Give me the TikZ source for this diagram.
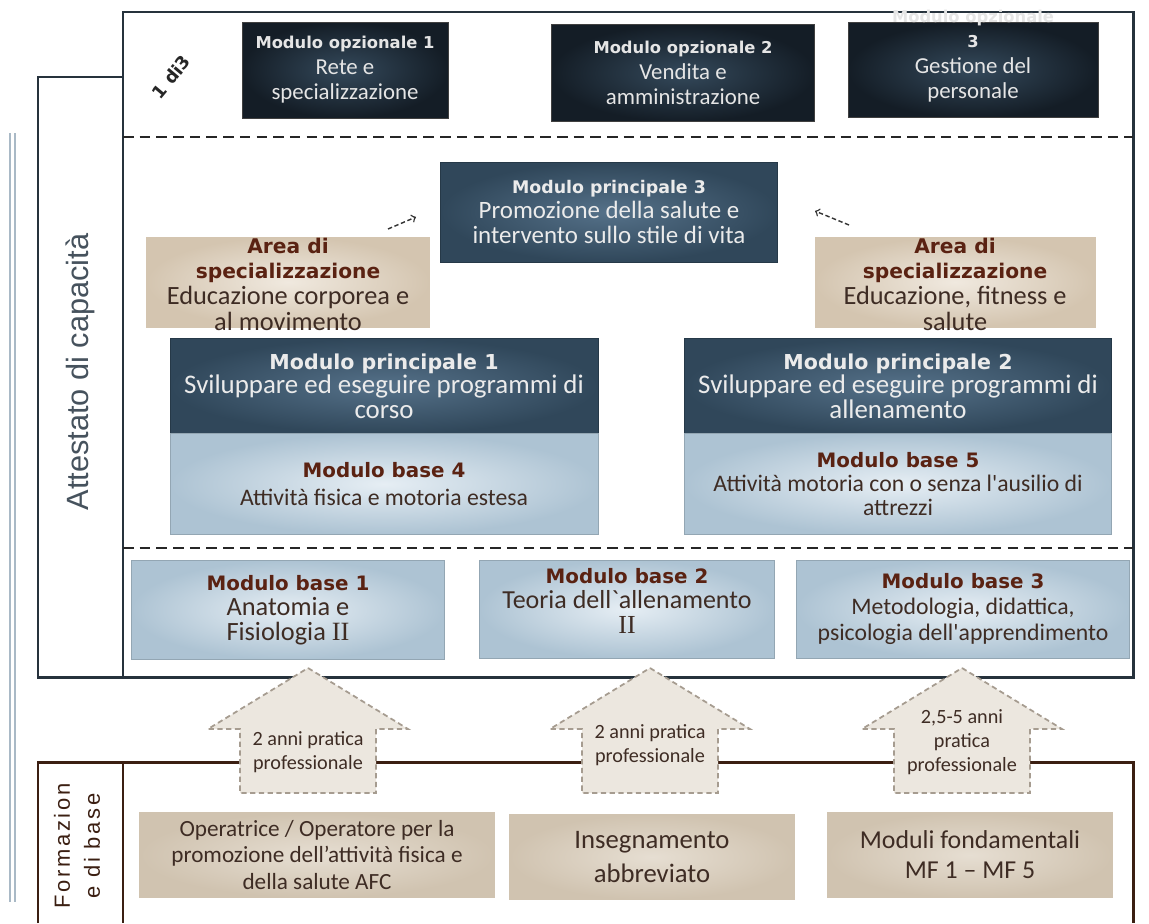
\documentclass[tikz,border=0pt]{standalone}
\usepackage{fontspec}
\setmainfont{Carlito}[Ligatures=TeXOff]
\newfontfamily\headfont{DejaVu Sans}
\newfontfamily\sidefont{Liberation Sans}
\newfontfamily\romfont{Liberation Serif}
\usetikzlibrary{positioning}

\definecolor{framecol}{HTML}{26323C}
\definecolor{browncol}{HTML}{3B1F12}
\definecolor{opta}{HTML}{34495B}
\definecolor{optb}{HTML}{141D26}
\definecolor{maina}{HTML}{557189}
\definecolor{mainb}{HTML}{30475A}
\definecolor{basea}{HTML}{E6EEF4}
\definecolor{baseb}{HTML}{ADC3D3}
\definecolor{areaa}{HTML}{F0E9DF}
\definecolor{areab}{HTML}{D4C5B0}
\definecolor{fboxa}{HTML}{E6DED2}
\definecolor{fboxb}{HTML}{D0C3B0}
\definecolor{arrfill}{HTML}{ECE7DF}
\definecolor{arrdraw}{HTML}{A69C90}
\definecolor{ttlbrown}{HTML}{5A2212}
\definecolor{txtbrown}{HTML}{3E2C24}
\definecolor{sidecol}{HTML}{46525D}
\definecolor{lightline}{HTML}{A9B9C6}

\newcommand{\pxu}{0.02cm}
\newcommand{\ttl}[2][11.3]{{\headfont\bfseries\fontsize{#1}{14}\selectfont #2}}
\newcommand{\rom}[1]{{\romfont #1}}

\tikzset{
  frame/.style={draw=framecol, line width=1.7pt},
  basefr/.style={draw=browncol, line width=1.7pt},
  sep/.style={draw=black!85, line width=1.1pt, dash pattern=on 6pt off 3.5pt},
  opttxt/.style={text=white!90!black, align=center, inner sep=0pt, font=\fontsize{13}{14.5}\selectfont},
  optbox/.style={opttxt, rectangle, draw=black!75, inner color=opta, outer color=optb},
  mainbox/.style={rectangle, draw=mainb!80!black, inner color=maina, outer color=mainb,
    text=white!92!black, align=center, inner sep=0pt, font=\fontsize{14.2}{14.5}\selectfont},
  basebox/.style={rectangle, draw=baseb!85!black, inner color=basea, outer color=baseb,
    text=txtbrown, align=center, inner sep=0pt, font=\fontsize{15}{14.3}\selectfont},
  areabox/.style={rectangle, draw=areab, inner color=areaa, outer color=areab},
  areatxt/.style={text=txtbrown, align=center, inner sep=0pt, font=\fontsize{15}{14.6}\selectfont},
  fbox/.style={rectangle, draw=fboxb, inner color=fboxa, outer color=fboxb,
    text=txtbrown, align=center, inner sep=0pt, font=\fontsize{13.2}{15.3}\selectfont},
  bigarrow/.style={fill=arrfill, draw=arrdraw, line width=1pt, dash pattern=on 3pt off 2pt},
  arrtxt/.style={text=txtbrown, align=center, inner sep=0pt, font=\fontsize{11.5}{13.5}\selectfont},
  smallarr/.style={draw=black!80, line width=0.8pt, dash pattern=on 2.5pt off 1.5pt, ->}
}

\begin{document}
\begin{tikzpicture}[x=0.02cm, y=-0.02cm]
\useasboundingbox (0,0) rectangle (1149,923);

% side lines and frames
\draw[draw=lightline, line width=1.4pt] (10,133) -- (10,902);
\draw[draw=lightline, line width=1.4pt] (15,133) -- (15,902);

\draw[frame] (123,12) rectangle (1133,677);
\draw[frame] (123,77) -- (38,77) -- (38,677) -- (123,677);
\draw[sep] (123,137) -- (1133,137);
\draw[sep] (123,548) -- (1133,548);

\draw[basefr] (38,923) -- (38,762) -- (1133,762) -- (1133,923);
\draw[basefr] (123,762) -- (123,923);

\node[rotate=90, text=sidecol, font=\sidefont\fontsize{17.5}{18}\selectfont] (att) at (80,372) {Attestato di capacità};
\node[rotate=90, text=browncol, align=center, font=\sidefont\addfontfeature{LetterSpace=12}\fontsize{12.5}{17}\selectfont] (form) at (77,846) {Formazion\\e di base};

% optional modules
\node[rotate=50, text=black!85, font=\headfont\bfseries\fontsize{10}{10}\selectfont] (scelta) at (171,77) {1 di3};
\node[optbox, minimum width=206*\pxu, minimum height=96*\pxu] (om1) at (345,70) {\ttl[9.3]{Modulo opzionale 1}\\Rete e\\specializzazione};
\node[optbox, minimum width=263*\pxu, minimum height=97*\pxu] (om2) at (683,73) {\ttl[9.3]{Modulo opzionale 2}\\Vendita e\\amministrazione};
\node[optbox, minimum width=250*\pxu, minimum height=95*\pxu] (om3) at (973,70) {};
\node[opttxt] (om3t) at (973,56) {\ttl[9.3]{Modulo opzionale}\\\ttl[9.3]{3}\\Gestione del\\personale};

% main modules
\node[mainbox, minimum width=337*\pxu, minimum height=100*\pxu] (mp3) at (609,212) {\ttl[9.9]{Modulo principale 3}\\Promozione della salute e\\intervento sullo stile di vita};

\node[areabox, minimum width=283*\pxu, minimum height=90*\pxu] (arl) at (288,282) {};
\node[areatxt] (arlt) at (288,284) {\ttl[11.5]{\color{ttlbrown}Area di}\\\ttl[11.5]{\color{ttlbrown}specializzazione}\\Educazione corporea e\\al movimento};
\node[areabox, minimum width=280*\pxu, minimum height=90*\pxu] (arr) at (955,282) {};
\node[areatxt] (arrt) at (955,284) {\ttl[11.5]{\color{ttlbrown}Area di}\\\ttl[11.5]{\color{ttlbrown}specializzazione}\\Educazione, fitness e\\salute};

\coordinate (la) at (388,229);
\coordinate (lb) at (416,217);
\coordinate (ra) at (849,225);
\coordinate (rb) at (815,211);
\draw[smallarr] (la) -- (lb);
\draw[smallarr] (ra) -- (rb);

\node[mainbox, minimum width=428*\pxu, minimum height=95*\pxu, font=\fontsize{15.3}{13.9}\selectfont] (mp1) at (384,386) {\ttl[11.7]{Modulo principale 1}\\Sviluppare ed eseguire programmi di\\corso};
\node[basebox, minimum width=428*\pxu, minimum height=101*\pxu, font=\fontsize{13.5}{15.5}\selectfont] (mb4) at (384,484) {\ttl{\color{ttlbrown}Modulo base 4}\\Attività fisica e motoria estesa};
\node[mainbox, minimum width=427*\pxu, minimum height=95*\pxu, font=\fontsize{15.3}{13.9}\selectfont] (mp2) at (898,386) {\ttl[11.7]{Modulo principale 2}\\Sviluppare ed eseguire programmi di\\allenamento};
\node[basebox, minimum width=427*\pxu, minimum height=101*\pxu, font=\fontsize{13.5}{13.8}\selectfont] (mb5) at (898,484) {\ttl{\color{ttlbrown}Modulo base 5}\\Attività motoria con o senza l'ausilio di\\attrezzi};

% base modules
\node[basebox, minimum width=313*\pxu, minimum height=99*\pxu] (mb1) at (288,610) {\ttl{\color{ttlbrown}Modulo base 1}\\Anatomia e\\Fisiologia \rom{II}};
\node[basebox, minimum width=295*\pxu, minimum height=98*\pxu, font=\fontsize{14.8}{14.3}\selectfont, text depth=9pt] (mb2) at (627,609) {\ttl{\color{ttlbrown}Modulo base 2}\\Teoria dell`allenamento\\\rom{II}};
\node[basebox, minimum width=333*\pxu, minimum height=98*\pxu, font=\fontsize{13.5}{14.6}\selectfont] (mb3) at (963,609) {\ttl{\color{ttlbrown}Modulo base 3}\\Metodologia, didattica,\\psicologia dell'apprendimento};

% practice arrows
\foreach \cx in {308,650,962}
  \draw[bigarrow] (\cx,668) -- (\cx+100,729) -- (\cx+68,729) -- (\cx+68,793) -- (\cx-68,793) -- (\cx-68,729) -- (\cx-100,729) -- cycle;
\node[arrtxt] (pr1) at (308,752) {2 anni pratica\\professionale};
\node[arrtxt] (pr2) at (650,745) {2 anni pratica\\professionale};
\node[arrtxt] (pr3) at (962,742) {2,5-5 anni\\pratica\\professionale};

% basic training
\node[fbox, minimum width=355*\pxu, minimum height=85*\pxu] (fb1) at (317,855) {Operatrice / Operatore per la\\promozione dell’attività fisica e\\della salute AFC};
\node[fbox, minimum width=285*\pxu, minimum height=85*\pxu, font=\fontsize{15.2}{19}\selectfont] (fb2) at (652,857) {Insegnamento\\abbreviato};
\node[fbox, minimum width=285*\pxu, minimum height=85*\pxu, font=\fontsize{14.7}{17}\selectfont] (fb3) at (970,855) {Moduli fondamentali\\MF 1 – MF 5};
\end{tikzpicture}
\end{document}
